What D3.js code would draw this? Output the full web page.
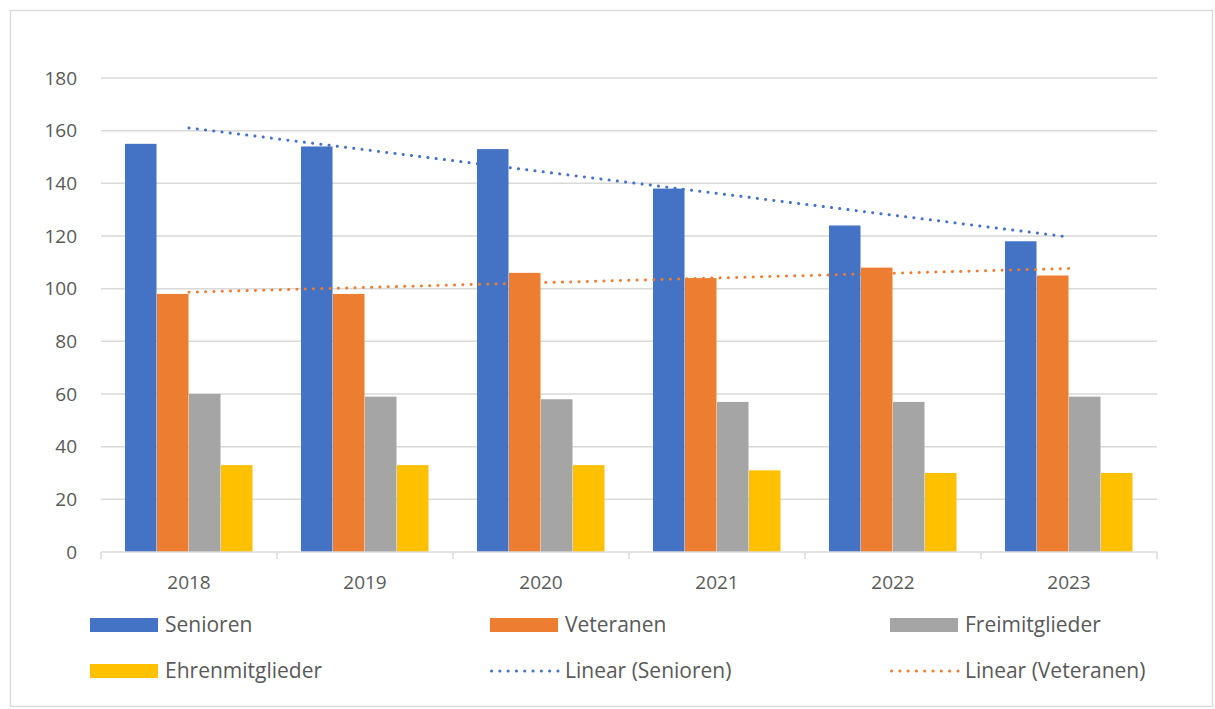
<!DOCTYPE html>
<html lang="de">
<head>
<meta charset="UTF-8" />
<title>Mitglieder</title>
<script src="https://d3js.org/d3.v7.min.js"></script>
<style>
  body { margin: 0; background: #fff; }
  svg text { font-family: "Open Sans", Lato, sans-serif; fill: #595959; }
</style>
</head>
<body>
<div id="chart"></div>
<script>
const years = ["2018", "2019", "2020", "2021", "2022", "2023"];
const seriesNames = ["Senioren", "Veteranen", "Freimitglieder", "Ehrenmitglieder"];
const senioren = [155, 154, 153, 138, 124, 118];
const veteranen = [98, 98, 106, 104, 108, 105];
const freimitglieder = [60, 59, 58, 57, 57, 59];
const ehrenmitglieder = [33, 33, 33, 31, 30, 30];
const yTicks = [0, 20, 40, 60, 80, 100, 120, 140, 160, 180];
const colors = ["#4472c4", "#ed7d31", "#a5a5a5", "#ffc000"];

const W = 1215, H = 709;
const plot = { left: 101, right: 1157, top: 78, bottom: 552 };

const svg = d3.select("#chart").append("svg")
  .attr("width", W).attr("height", H);

// Rahmen
svg.append("rect")
  .attr("x", 10.5).attr("y", 10.5)
  .attr("width", W - 13).attr("height", H - 13)
  .attr("fill", "#fff").attr("stroke", "#d9d9d9").attr("stroke-width", 1.3);

const x = d3.scaleBand().domain(years).range([plot.left, plot.right]).paddingInner(0).paddingOuter(0);
const inner = d3.scaleBand().domain(seriesNames).range([0, x.bandwidth()]).paddingOuter(0.75).paddingInner(0);
const y = d3.scaleLinear().domain([0, 180]).range([plot.bottom, plot.top]);

// Gitternetz
svg.append("g").selectAll("line").data(yTicks.filter(d => d > 0)).join("line")
  .attr("x1", plot.left).attr("x2", plot.right)
  .attr("y1", d => y(d)).attr("y2", d => y(d))
  .attr("stroke", "#d9d9d9").attr("stroke-width", 1.5);

// y-Beschriftung
svg.append("g").selectAll("text").data(yTicks).join("text")
  .attr("x", 77).attr("y", d => y(d))
  .attr("dy", "0.35em")
  .attr("text-anchor", "end")
  .attr("font-size", 19)
  .text(d => d);

// Balken
const allSeries = [senioren, veteranen, freimitglieder, ehrenmitglieder];
allSeries.forEach((vals, si) => {
  svg.append("g").selectAll("rect").data(vals).join("rect")
    .attr("x", (d, i) => x(years[i]) + inner(seriesNames[si]))
    .attr("y", d => y(d))
    .attr("width", inner.bandwidth() - 0.5)
    .attr("height", d => y(0) - y(d))
    .attr("fill", colors[si]);
});

// x-Achse
svg.append("line")
  .attr("x1", plot.left).attr("x2", plot.right)
  .attr("y1", y(0)).attr("y2", y(0))
  .attr("stroke", "#d9d9d9").attr("stroke-width", 1.5);
const bounds = years.map(d => x(d)).concat([plot.right]);
svg.append("g").selectAll("line").data(bounds).join("line")
  .attr("x1", d => d).attr("x2", d => d)
  .attr("y1", y(0)).attr("y2", y(0) + 7)
  .attr("stroke", "#d9d9d9").attr("stroke-width", 1.5);
svg.append("g").selectAll("text").data(years).join("text")
  .attr("x", d => x(d) + x.bandwidth() / 2).attr("y", 582)
  .attr("dy", "0.35em")
  .attr("text-anchor", "middle")
  .attr("font-size", 19)
  .text(d => d);

// lineare Trendlinien (kleinste Quadrate, wie Excel)
function linearFit(vals) {
  const n = vals.length;
  const mx = d3.mean(vals, (d, i) => i), my = d3.mean(vals);
  let sxy = 0, sxx = 0;
  vals.forEach((v, i) => { sxy += (i - mx) * (v - my); sxx += (i - mx) * (i - mx); });
  const b = sxy / sxx, a = my - b * mx;
  return [0, n - 1].map(i => ({ i, v: a + b * i }));
}
const trendLine = d3.line()
  .x(d => x(years[d.i]) + x.bandwidth() / 2)
  .y(d => y(d.v));
[[senioren, colors[0]], [veteranen, colors[1]]].forEach(([vals, c]) => {
  svg.append("path")
    .attr("d", trendLine(linearFit(vals)))
    .attr("fill", "none")
    .attr("stroke", c)
    .attr("stroke-width", 3)
    .attr("stroke-linecap", "round")
    .attr("stroke-dasharray", "0.1 8.2");
});

// Legende
const legendItems = [
  { name: "Senioren", color: colors[0], type: "bar" },
  { name: "Veteranen", color: colors[1], type: "bar" },
  { name: "Freimitglieder", color: colors[2], type: "bar" },
  { name: "Ehrenmitglieder", color: colors[3], type: "bar" },
  { name: "Linear (Senioren)", color: colors[0], type: "line" },
  { name: "Linear (Veteranen)", color: colors[1], type: "line" }
];
const legCols = [90, 490, 890], legRows = [625, 671];
const leg = svg.append("g").selectAll("g").data(legendItems).join("g")
  .attr("transform", (d, i) => `translate(${legCols[i % 3]},${legRows[Math.floor(i / 3)]})`);
leg.filter(d => d.type === "bar").append("rect")
  .attr("x", 0).attr("y", -7).attr("width", 68).attr("height", 14)
  .attr("fill", d => d.color);
leg.filter(d => d.type === "line").append("line")
  .attr("x1", 1.5).attr("x2", 68).attr("y1", 0).attr("y2", 0)
  .attr("stroke", d => d.color)
  .attr("stroke-width", 3)
  .attr("stroke-linecap", "round")
  .attr("stroke-dasharray", "0.1 8.2");
leg.append("text")
  .attr("x", 75).attr("y", 0).attr("dy", "0.35em")
  .attr("font-size", 21)
  .text(d => d.name);
</script>
</body>
</html>
